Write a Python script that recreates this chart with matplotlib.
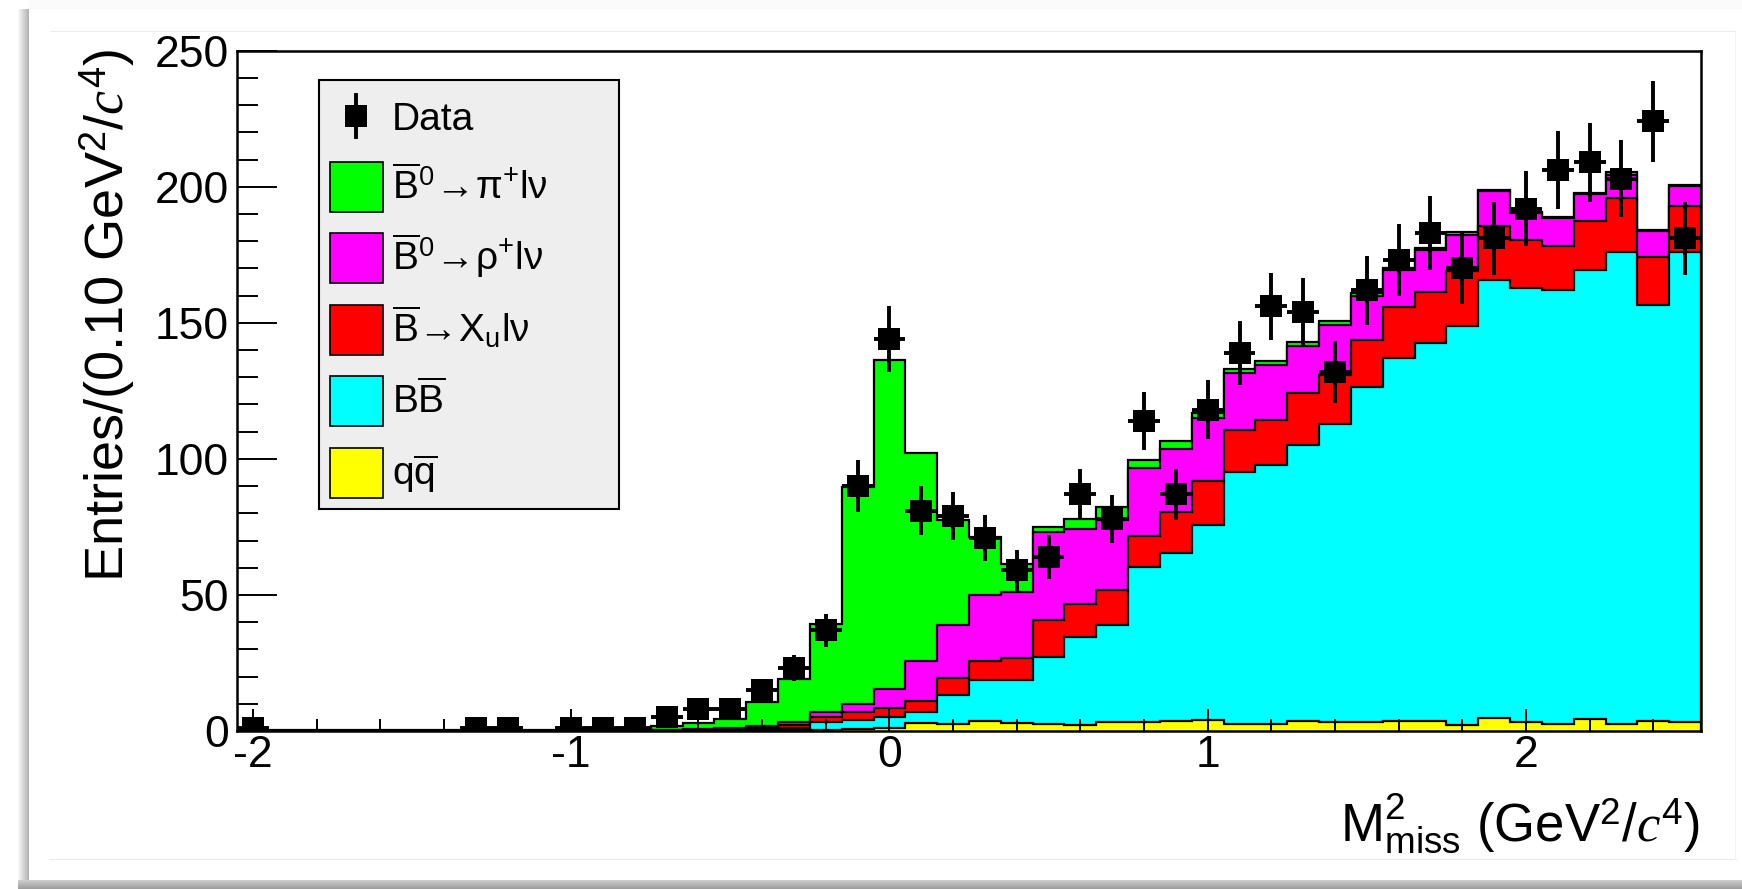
import numpy as np
import matplotlib
matplotlib.use("Agg")
import matplotlib.pyplot as plt
from matplotlib.patches import Rectangle
from matplotlib.lines import Line2D
from matplotlib.ticker import MultipleLocator

plt.rcParams['font.family'] = ['Liberation Sans', 'DejaVu Sans']
plt.rcParams['mathtext.fontset'] = 'custom'
plt.rcParams['mathtext.rm'] = 'Liberation Sans'
plt.rcParams['mathtext.it'] = 'Liberation Serif:italic'
plt.rcParams['mathtext.bf'] = 'Liberation Sans:bold'
plt.rcParams['axes.unicode_minus'] = False

# ---------------- data (bins of 0.1 GeV^2/c^4, centres -2.0 ... 2.5) ----------------
x_lo, x_hi, n_bins = -2.05, 2.55, 46

data_counts = [1, 0, 0, 0, 0, 0, 0, 1, 1, 0,
               1, 1, 1, 5, 8, 8, 15, 23, 37, 90,
               144, 81, 79, 71, 59, 64, 87, 78, 114, 87,
               118, 139, 156, 154, 132, 162, 173, 183, 170, 181,
               192, 206, 209, 203, 224, 181]

qq = [0, 0, 0, 0, 0, 0, 0, 0, 0, 0,
      0, 0, 0, 0, 0.1, 0.1, 0.2, 0.3, 0.5, 0.8,
      1.0, 2.8, 2.5, 3.7, 2.8, 2.6, 2.2, 3.2, 3.3, 3.6,
      3.9, 2.6, 2.5, 3.6, 3.2, 3.2, 3.7, 3.6, 2.2, 4.7,
      3.2, 2.5, 4.3, 2.6, 3.7, 3.2]

bbbar = [0.1, 0.1, 0.1, 0.1, 0.1, 0.1, 0.1, 0.1, 0.1, 0.1,
         0.1, 0.1, 0.1, 0.1, 0.1, 0.2, 0.4, 0.9, 2.7, 3.2,
         4.3, 4.1, 10.7, 14.9, 16.1, 24.7, 32.5, 35.8, 57.1, 61.9,
         71.8, 92.6, 95.1, 101.5, 109.5, 123.1, 133.3, 138.9, 146.8, 161.1,
         159.7, 159.6, 165.2, 173.4, 152.7, 173.0]

xulnu = [0, 0, 0, 0, 0, 0, 0, 0, 0, 0,
         0, 0.1, 0.1, 0.1, 0.2, 0.3, 0.5, 1.0, 1.8, 3.1,
         3.0, 4.1, 6.2, 7.1, 7.8, 13.5, 11.9, 12.8, 11.2, 14.8,
         16.0, 15.5, 16.7, 19.0, 18.2, 17.5, 18.8, 19.0, 19.9, 19.6,
         17.6, 16.2, 18.1, 19.7, 17.9, 16.8]

rholnu = [0, 0, 0, 0, 0, 0, 0, 0, 0, 0,
          0, 0, 0.1, 0.1, 0.2, 0.4, 0.6, 1.1, 1.9, 2.7,
          7.1, 14.7, 19.6, 24.3, 24.5, 32.2, 27.7, 25.8, 25.2, 23.3,
          23.3, 21.0, 20.3, 17.4, 18.4, 16.2, 13.7, 15.3, 13.5, 12.9,
          9.8, 10.2, 9.8, 8.7, 9.6, 7.4]

pilnu = [0.1, 0.1, 0.1, 0.1, 0.1, 0.1, 0.1, 0.1, 0.1, 0.1,
         0.2, 0.2, 0.5, 1.7, 2.4, 3.5, 8.9, 15.9, 32.4, 80.0,
         120.9, 76.5, 38.5, 21.4, 10.1, 1.8, 3.6, 4.9, 2.7, 3.0,
         2.0, 1.3, 1.2, 1.3, 1.2, 0.9, 0.5, 0.7, 0.8, 0.6,
         0.6, 0.5, 0.4, 1.2, 0.3, 0.3]

x_ticks = [-2, -1, 0, 1, 2]
y_ticks = [0, 50, 100, 150, 200, 250]

labels = ['Data',
          r'$\overline{\mathrm{B}}^{0}\!\rightarrow\!\mathrm{\pi^{+}l\nu}$',
          r'$\overline{\mathrm{B}}^{0}\!\rightarrow\!\mathrm{\rho^{+}l\nu}$',
          r'$\overline{\mathrm{B}}\!\rightarrow\!\mathrm{X_{u}l\nu}$',
          r'$\mathrm{B}\overline{\mathrm{B}}$',
          r'$\mathrm{q}\overline{\mathrm{q}}$']
colors = ['#00ff00', '#ff00ff', '#ff0000', '#00ffff', '#ffff00']  # pi, rho, Xu, BB, qq

# ---------------- figure ----------------
W, H = 1742, 889
fig = plt.figure(figsize=(W / 100, H / 100), dpi=100)
fig.patch.set_facecolor('white')

# screenshot-like frame / shadow
bg = np.ones((H, W, 3))
bg[0:9, 29:, :] = 0.985
shade = np.linspace(0.97, 0.70, 11)
for i, v in enumerate(shade):
    bg[9:880, 18 + i, :] = v
bshade = np.linspace(0.80, 0.62, 9)
for i, v in enumerate(bshade):
    bg[880 + i, 18:, :] = v
bg[31, 50:1736, :] = 0.92
bg[859, 49:1737, :] = 0.92
bg[31:860, 1735, :] = 0.95
fig.figimage(bg, xo=0, yo=0, origin='upper', zorder=-10)

ax = fig.add_axes([237 / W, 1 - 731 / H, (1701 - 237) / W, (731 - 50.7) / H])
ax.set_facecolor('white')

edges = np.linspace(x_lo, x_hi, n_bins + 1)
centres = 0.5 * (edges[:-1] + edges[1:])

components = np.array([qq, bbbar, xulnu, rholnu, pilnu])
cum = np.cumsum(components, axis=0)
stack_colors = ['#ffff00', '#00ffff', '#ff0000', '#ff00ff', '#00ff00']
for k in range(len(components) - 1, -1, -1):
    ax.stairs(cum[k], edges, baseline=0, fill=True,
              facecolor=stack_colors[k], edgecolor='black', linewidth=1.6, zorder=1)

counts = np.array(data_counts, dtype=float)
m = counts > 0
ax.errorbar(centres[m], counts[m], yerr=np.sqrt(counts[m]), xerr=0.05,
            fmt='s', color='black', ms=16, mew=0, elinewidth=2.8, capsize=0, zorder=5)

ax.set_xlim(x_lo, x_hi)
ax.set_ylim(0, 250)
ax.set_xticks(x_ticks)
ax.set_yticks(y_ticks)
ax.xaxis.set_minor_locator(MultipleLocator(0.2))
ax.yaxis.set_minor_locator(MultipleLocator(10))
ax.tick_params(which='both', direction='in', top=False, right=False, width=1.4,
               labelsize=32)
ax.tick_params(axis='y', which='major', length=29, pad=6)
ax.tick_params(axis='y', which='minor', length=15)
ax.tick_params(axis='x', which='major', length=16, pad=3)
ax.tick_params(axis='x', which='minor', length=8.5)
for s in ax.spines.values():
    s.set_linewidth(1.8)
    s.set_zorder(4)

# axis titles
fig.text(124 / W, 1 - 49 / H, r'Entries/(0.10 GeV$^{2}$/$\mathit{c}^{4}$)',
         rotation=90, rotation_mode='anchor', ha='right', va='baseline', fontsize=39)
fig.text(1700 / W, 1 - 841 / H,
         r'$\mathrm{M}^{2}_{\mathrm{miss}}$ (GeV$^{2}$/$\mathit{c}^{4}$)',
         ha='right', va='baseline', fontsize=38)

# legend (drawn manually to match the ROOT layout)
def fx(px):
    return px / W

def fy(py):
    return 1 - py / H

fig.add_artist(Rectangle((fx(319), fy(509)), fx(619) - fx(319), fy(80) - fy(509),
                         transform=fig.transFigure, facecolor='#eeeeee',
                         edgecolor='black', linewidth=1.5, zorder=6))
# data entry
fig.add_artist(Line2D([fx(356), fx(356)], [fy(95), fy(137)], color='black',
                      linewidth=2.8, transform=fig.transFigure, zorder=7))
fig.add_artist(Line2D([fx(356)], [fy(116)], marker='s', ms=16, mew=0, color='black',
                      transform=fig.transFigure, zorder=7))
fig.text(fx(392), fy(116), labels[0], fontsize=28, ha='left', va='center_baseline', zorder=8)
ys = [187, 258, 330, 401, 473]
for y, c, lab in zip(ys, colors, labels[1:]):
    fig.add_artist(Rectangle((fx(330), fy(y + 25)), fx(383) - fx(330), fy(y - 25) - fy(y + 25),
                             transform=fig.transFigure, facecolor=c, edgecolor='black',
                             linewidth=1.2, zorder=7))
    fig.text(fx(392), fy(y + 12), lab, fontsize=28, ha='left', va='baseline', zorder=8)

fig.savefig('out.png', dpi=100)
